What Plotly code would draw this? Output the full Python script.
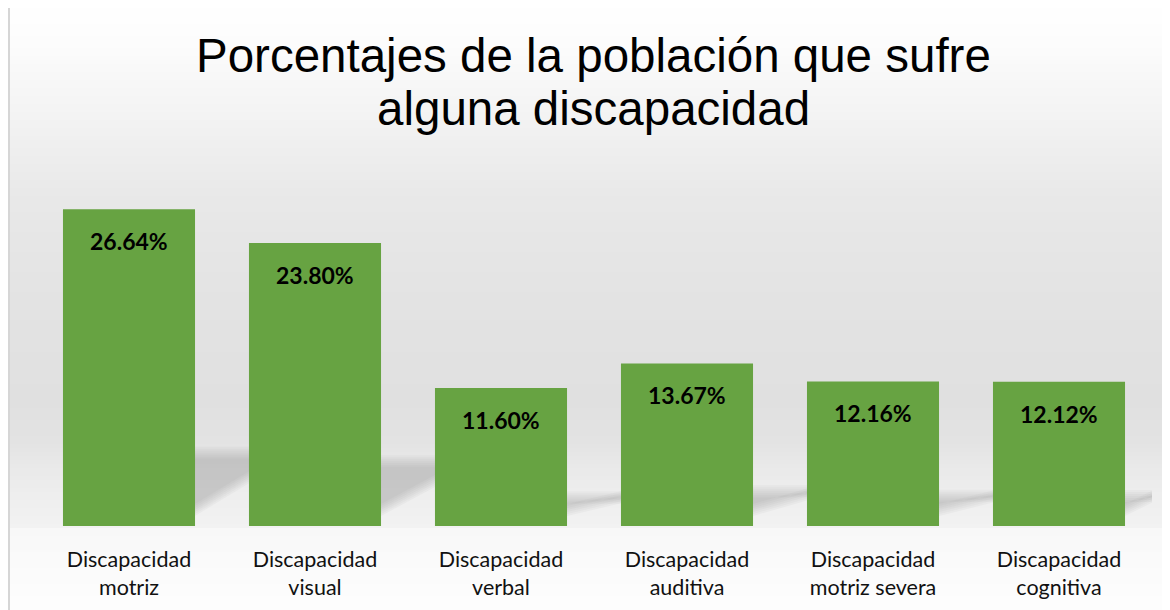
import plotly.graph_objects as go

categories = ["Discapacidad<br>motriz", "Discapacidad<br>visual", "Discapacidad<br>verbal",
              "Discapacidad<br>auditiva", "Discapacidad<br>motriz severa", "Discapacidad<br>cognitiva"]
porcentajes = [26.64, 23.80, 11.60, 13.67, 12.16, 12.12]
etiquetas = ["26.64%", "23.80%", "11.60%", "13.67%", "12.16%", "12.12%"]
titulo = ["Porcentajes de la población que sufre", "alguna discapacidad"]

W, H = 1170, 610
OFF = 8  # page body margin: the figure sits 8px right/down in the window
M_L, M_R, M_T, M_B = 36 - OFF, 18 + OFF, 193 - OFF, 84 + OFF
plot_w = W - M_L - M_R
plot_h = H - M_T - M_B
Y_MAX = 28
HALF_BAR = 0.355


def py2paper(py):
    # window pixel row -> paper y
    return (H - M_B - (py - OFF)) / plot_h


def px2paper(px):
    return (px - OFF - M_L) / plot_w


fig = go.Figure()
fig.add_trace(go.Bar(x=list(range(len(categories))), y=porcentajes,
                     marker=dict(color="#67A342", line=dict(width=0)),
                     hoverinfo="skip"))

# value labels inside the top of each bar
for i, (v, t) in enumerate(zip(porcentajes, etiquetas)):
    fig.add_annotation(x=i, y=v, text="<b>" + t + "</b>", showarrow=False,
                       yanchor="middle", yshift=-32,
                       font=dict(family="Lato", size=23, color="#000000"))

# title, one annotation per line
for line, py in zip(titulo, [55, 108]):
    fig.add_annotation(xref="paper", yref="paper", x=px2paper(593), y=py2paper(py),
                       text=line, showarrow=False, xanchor="center", yanchor="middle",
                       font=dict(family="Liberation Sans", size=47.5, color="#000000"))

# background: vertical grey gradient built from thin strips
stops = [(0, 255), (40, 252), (100, 245), (150, 238), (200, 232), (300, 227),
         (400, 224), (440, 227), (470, 234), (500, 239), (526, 242),
         (527, 248), (618, 254)]
shapes = []
step = 4
for py in range(0, H + OFF, step):
    g = 254
    for (a, ga), (b, gb) in zip(stops[:-1], stops[1:]):
        if a <= py < b:
            g = int(round(ga + (gb - ga) * (py - a) / (b - a)))
            break
    shapes.append(dict(type="rect", xref="paper", yref="paper", layer="below",
                       x0=px2paper(OFF), x1=px2paper(W + OFF),
                       y0=py2paper(py + step), y1=py2paper(py),
                       fillcolor=f"rgb({g},{g},{g})", line=dict(width=0)))

# soft floor shadows to the right of each bar
base_px = 526
px_per_unit = plot_h / Y_MAX
for i, v in enumerate(porcentajes):
    top = base_px - 0.25 * v * px_per_unit
    x0 = i + HALF_BAR
    x1 = i + 1 - HALF_BAR if i < len(porcentajes) - 1 else len(porcentajes) - 0.5
    right_bot = top + 0.55 * (513 - top)
    for k in range(7):
        ins = 2 * k
        path = (f"M {x0},{py2paper(top + ins)} L {x1},{py2paper(top + ins)} "
                f"L {x1},{py2paper(right_bot - ins)} L {x0},{py2paper(516 - ins)} Z")
        shapes.append(dict(type="path", xref="x", yref="paper", layer="below",
                           path=path, fillcolor="rgba(120,120,120,0.055)",
                           line=dict(width=0)))

# left border line
shapes.append(dict(type="line", xref="paper", yref="paper",
                   x0=px2paper(9), x1=px2paper(9),
                   y0=py2paper(H + OFF), y1=py2paper(OFF),
                   line=dict(color="#d6d6d6", width=2)))

fig.update_layout(
    width=W, height=H,
    margin=dict(l=M_L, r=M_R, t=M_T, b=M_B),
    paper_bgcolor="white", plot_bgcolor="rgba(0,0,0,0)",
    bargap=0.29,
    showlegend=False,
    shapes=shapes,
    xaxis=dict(tickmode="array", tickvals=list(range(len(categories))), ticktext=categories,
               range=[-0.5, len(categories) - 0.5], showgrid=False, zeroline=False,
               showline=False, ticks="outside", ticklen=14, tickcolor="rgba(0,0,0,0)",
               tickfont=dict(family="Lato", size=21.5, color="#111111")),
    yaxis=dict(range=[0, Y_MAX], visible=False, showgrid=False, zeroline=False),
)

fig.write_html("out.html")
